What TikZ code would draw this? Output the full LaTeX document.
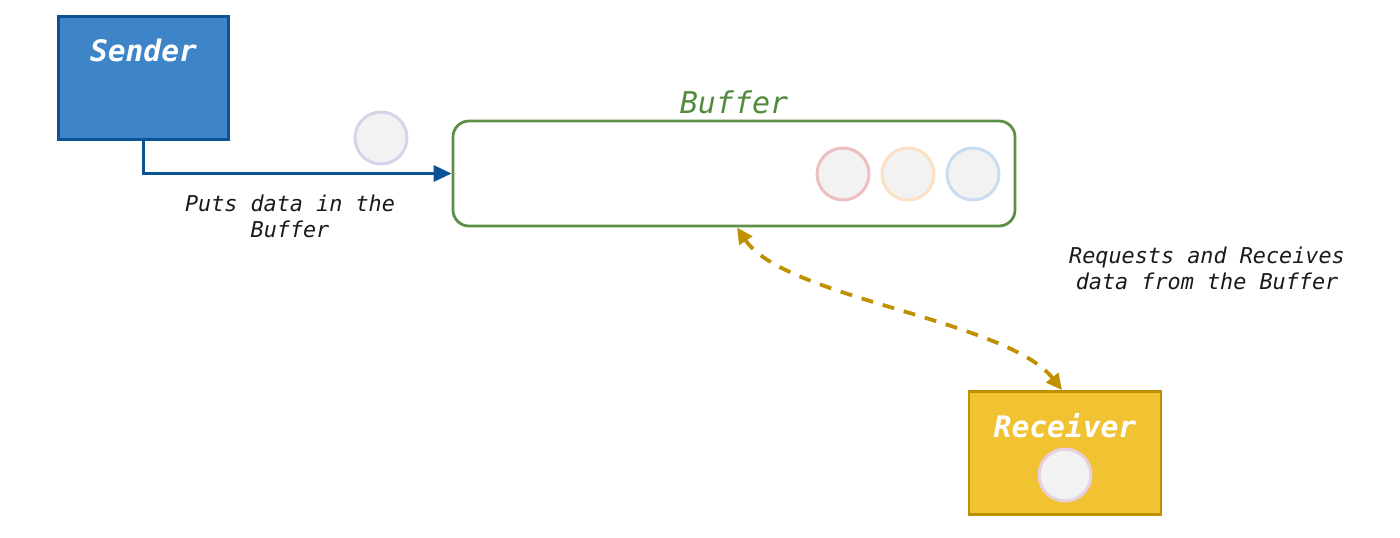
\documentclass[tikz,border=0pt]{standalone}
\usepackage{fontspec}
\setmonofont{DejaVu Sans Mono}
\usetikzlibrary{calc,positioning,arrows.meta}
\definecolor{SenderFill}{HTML}{3D85C6}
\definecolor{SenderLine}{HTML}{0B5394}
\definecolor{RecvFill}{HTML}{F1C232}
\definecolor{RecvLine}{HTML}{BF9000}
\definecolor{BufLine}{HTML}{5E8F47}
\definecolor{BufText}{HTML}{538B3E}
\definecolor{DotFill}{HTML}{F2F2F2}
\definecolor{DotPurple}{HTML}{D9D2E9}
\definecolor{DotRed}{HTML}{EDBFC0}
\definecolor{DotOrange}{HTML}{FBE0C3}
\definecolor{DotBlue}{HTML}{CADDF0}
\definecolor{DotPink}{HTML}{E8CFE0}
\definecolor{NoteText}{HTML}{1A1A1A}

\tikzset{
  actor/.style={draw, line width=1.4pt, minimum width=85pt, minimum height=61.5pt},
  actorlbl/.style={text=white, font=\ttfamily\bfseries\itshape\fontsize{14.8}{17}\selectfont},
  datadot/.style={circle, draw, line width=1.5pt, fill=DotFill, minimum size=26pt, inner sep=0pt},
  note/.style={text=NoteText, align=center, font=\ttfamily\itshape\fontsize{10.9}{13}\selectfont}
}

\begin{document}
\begin{tikzpicture}[x=0.5pt,y=-0.5pt]
  \useasboundingbox (0,0) rectangle (1400,537);

  % sender side
  \node[actor, fill=SenderFill, draw=SenderLine] (sender) at (143.5,78) {};
  \node[actorlbl] (sendertxt) at ([yshift=-17.5pt]sender.north) {Sender};

  % the buffer
  \node[
    draw=BufLine,
    line width=1.4pt,
    rounded corners=8pt,
    minimum width=281pt,
    minimum height=52.5pt
  ] (buffer) at (734,173.5) {};
  \node[text=BufText, font=\ttfamily\itshape\fontsize{15}{17}\selectfont, anchor=south] (buftxt) at ([yshift=-0.5pt]buffer.north) {Buffer};

  \node[datadot, draw=DotRed] (dotred) at (843,174) {};
  \node[datadot, draw=DotOrange, right=5pt of dotred] (dotorange) {};
  \node[datadot, draw=DotBlue, right=5pt of dotorange] (dotblue) {};

  \node[datadot, draw=DotPurple] (dotin) at (381,138) {};

  % receiver side
  \node[actor, minimum width=96pt, fill=RecvFill, draw=RecvLine] (receiver) at (1065,453) {};
  \node[actorlbl] (recvtxt) at ([yshift=-18pt]receiver.north) {Receiver};
  \node[datadot, draw=DotPink] (dotout) at (1065,475) {};

  % connectors
  \draw[SenderLine, line width=1.6pt, -{Triangle[length=9pt,width=8pt]}]
    (sender.south) |- (buffer.west);
  \node[note] (putnote) at (290,216) {Puts data in the\\Buffer};

  \draw[RecvLine, line width=1.9pt, dash pattern=on 6pt off 5pt,
        {Triangle[length=8pt,width=7.5pt]}-{Triangle[length=8pt,width=7.5pt]}]
    ([xshift=1.5pt]buffer.south) .. controls (784,298) and (1007,320) .. ([xshift=-1.5pt]receiver.north);
  \node[note] (getnote) at (1207,268) {Requests and Receives\\data from the Buffer};
\end{tikzpicture}
\end{document}
